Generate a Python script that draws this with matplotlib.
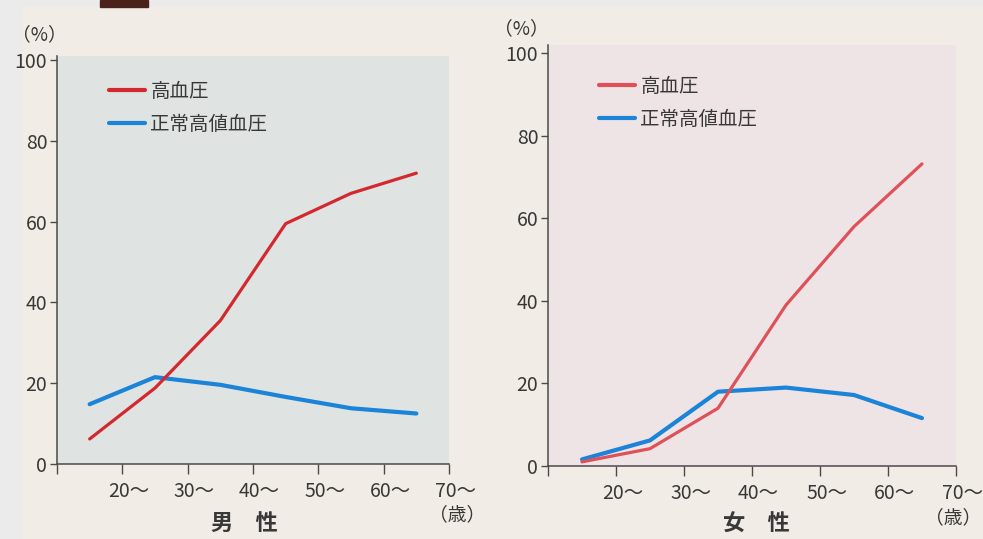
#!/usr/bin/env python3
"""Prevalence of hypertension / high-normal blood pressure by age group, men vs women."""

import matplotlib

matplotlib.use("Agg")
import matplotlib.pyplot as plt
from matplotlib.patches import Rectangle
from matplotlib.transforms import ScaledTranslation

plt.rcParams["font.family"] = ["Noto Sans CJK JP", "DejaVu Sans"]

# ---------------------------------------------------------------------------
# Data (percent of each age group)
# ---------------------------------------------------------------------------

age_mid = [15, 25, 35, 45, 55, 65]
tick_pos = [10, 20, 30, 40, 50, 60, 70]
tick_labels = ["", "20～", "30～", "40～", "50～", "60～", "70～"]

men_htn = [6.2, 18.8, 35.5, 59.5, 67.0, 72.0]
men_high_normal = [14.8, 21.5, 19.6, 16.6, 13.8, 12.5]

women_htn = [1.0, 4.2, 14.0, 39.0, 58.0, 73.2]
women_high_normal = [1.6, 6.2, 18.0, 19.0, 17.2, 11.6]

series_labels = ["高血圧", "正常高値血圧"]
panel_titles = ["男　性", "女　性"]

W, H = 983, 539
TEXT = "#383838"
AXIS = "#4a4a4a"


def px(x, y):
    """Pixel position (from top-left) -> figure fraction."""
    return x / W, 1 - y / H


def draw_panel(fig, rect, bg, htn, high_normal, red, ytop, leg_anchor):
    ax = fig.add_axes(rect)
    ax.set_facecolor(bg)
    ax.plot(age_mid, htn, color=red, lw=2.3, solid_capstyle="round",
            label=series_labels[0], zorder=3)
    ax.plot(age_mid, high_normal, color="#1b84d9", lw=3.0, solid_capstyle="round",
            label=series_labels[1], zorder=2)
    ax.set_xlim(10, 70)
    ax.set_ylim(0, ytop)
    for side in ("top", "right"):
        ax.spines[side].set_visible(False)
    for side in ("left", "bottom"):
        ax.spines[side].set_color(AXIS)
        ax.spines[side].set_linewidth(1.1)

    ax.set_yticks([0, 20, 40, 60, 80, 100])
    ax.tick_params(axis="y", length=5, width=1, color=AXIS, labelsize=14,
                   labelcolor=TEXT, pad=2)
    ax.set_xticks(tick_pos)
    ax.set_xticklabels(tick_labels)
    ax.tick_params(axis="x", length=7, width=1, color=AXIS, labelsize=14,
                   labelcolor=TEXT, pad=5)
    shift = ScaledTranslation(-10 / 72, 0, fig.dpi_scale_trans)
    for lab in ax.get_xticklabels():
        lab.set_horizontalalignment("left")
        lab.set_transform(lab.get_transform() + shift)

    leg = ax.legend(loc="upper left", bbox_to_anchor=leg_anchor, frameon=False,
                    fontsize=14, handlelength=1.85, handletextpad=0.3,
                    labelspacing=0.62, borderaxespad=0)
    for t in leg.get_texts():
        t.set_color(TEXT)
    for h in leg.get_lines():
        h.set_linewidth(3.0)
    return ax


def label(fig, x, y, s, ha="center", **kw):
    kw.setdefault("fontsize", 13.5)
    kw.setdefault("color", TEXT)
    fig.text(*px(x, y), s, ha=ha, va="center", **kw)


def main() -> None:
    fig = plt.figure(figsize=(W / 100, H / 100), dpi=100)
    fig.patch.set_facecolor("#ebebeb")
    # paper sheet and the dark strip along the top edge
    fig.add_artist(Rectangle((23 / W, 0), 1, (H - 7) / H,
                             transform=fig.transFigure, color="#f1ede6", zorder=-10))
    fig.add_artist(Rectangle((100 / W, (H - 7) / H), 48 / W, 7 / H,
                             transform=fig.transFigure, color="#4b2219", zorder=-10))

    draw_panel(fig, [57 / W, 75 / H, 392 / W, 408 / H], "#dfe3e2",
               men_htn, men_high_normal, "#d2282e", 101, (0.112, 0.958))
    draw_panel(fig, [548 / W, 73 / H, 408 / W, 421 / H], "#efe4e5",
               women_htn, women_high_normal, "#de5158", 102, (0.105, 0.946))

    label(fig, 39, 35, "（%）")
    label(fig, 521, 29, "（%）")
    label(fig, 457, 515, "（歳）")
    label(fig, 981, 518, "（歳）", ha="right")
    label(fig, 244, 523, panel_titles[0], fontsize=16, fontweight="bold")
    label(fig, 756, 524, panel_titles[1], fontsize=16, fontweight="bold")

    fig.savefig("out.png", dpi=100, facecolor=fig.get_facecolor())
    plt.close(fig)


if __name__ == "__main__":
    main()
